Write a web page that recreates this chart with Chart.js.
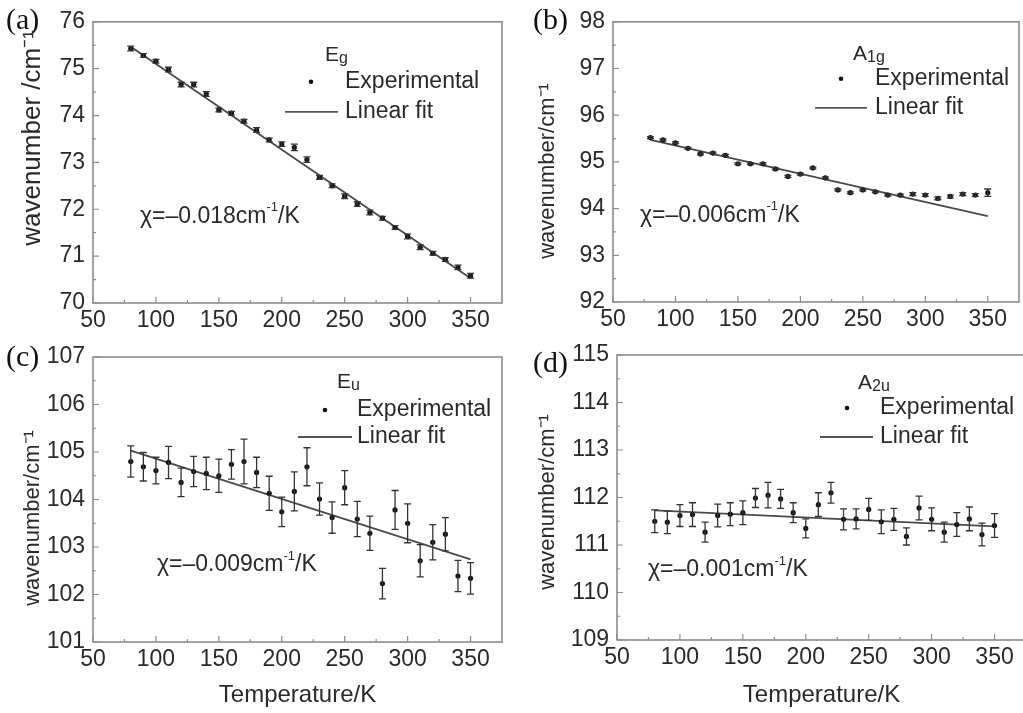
<!DOCTYPE html>
<html>
<head>
<meta charset="utf-8">
<script src="https://cdn.jsdelivr.net/npm/chart.js@4.4.1/dist/chart.umd.min.js"></script>
<style>
  body { margin: 0; background: #fff; width: 1023px; height: 713px; overflow: hidden; position: relative; }
  canvas { position: absolute; }
</style>
</head>
<body>
<canvas id="pa" width="512" height="330" style="left:0;top:0"></canvas>
<canvas id="pb" width="511" height="330" style="left:512px;top:0"></canvas>
<canvas id="pc" width="512" height="383" style="left:0;top:330px"></canvas>
<canvas id="pd" width="520" height="383" style="left:512px;top:330px"></canvas>
<script>
// temperatures (K)
const temps = [80, 90, 100, 110, 120, 130, 140, 150, 160, 170, 180, 190, 200, 210,
               220, 230, 240, 250, 260, 270, 280, 290, 300, 310, 320, 330, 340, 350];
const fitTemps = [80, 350];

// (a) Eg
const egWave = [75.43, 75.28, 75.16, 74.98, 74.66, 74.66, 74.46, 74.12, 74.05, 73.88, 73.69, 73.48, 73.39, 73.32,
                73.06, 72.68, 72.50, 72.28, 72.11, 71.93, 71.81, 71.61, 71.42, 71.19, 71.06, 70.93, 70.76, 70.58];
const egErr  = [0.05, 0.04, 0.04, 0.05, 0.05, 0.05, 0.05, 0.04, 0.04, 0.04, 0.05, 0.04, 0.05, 0.07,
                0.06, 0.04, 0.04, 0.05, 0.05, 0.05, 0.04, 0.04, 0.05, 0.05, 0.04, 0.04, 0.05, 0.05];
const egFit  = [75.47, 70.53];

// (b) A1g
const a1gWave = [95.52, 95.47, 95.41, 95.29, 95.17, 95.19, 95.14, 94.96, 94.96, 94.96, 94.85, 94.69, 94.74, 94.87,
                 94.66, 94.40, 94.34, 94.40, 94.36, 94.29, 94.29, 94.31, 94.29, 94.22, 94.26, 94.31, 94.29, 94.34];
const a1gErr  = [0.02, 0.02, 0.02, 0.02, 0.02, 0.02, 0.02, 0.02, 0.02, 0.02, 0.02, 0.02, 0.02, 0.02,
                 0.02, 0.02, 0.02, 0.02, 0.02, 0.02, 0.02, 0.03, 0.03, 0.03, 0.03, 0.03, 0.03, 0.08];
const a1gFit  = [95.47, 93.84];

// (c) Eu
const euWave = [104.80, 104.69, 104.61, 104.78, 104.36, 104.59, 104.55, 104.50, 104.74, 104.80, 104.57, 104.13, 103.74, 104.17,
                104.69, 104.01, 103.62, 104.25, 103.59, 103.29, 102.23, 103.78, 103.50, 102.71, 103.10, 103.27, 102.39, 102.34];
const euErr  = [0.33, 0.30, 0.28, 0.34, 0.30, 0.32, 0.34, 0.35, 0.31, 0.47, 0.32, 0.36, 0.31, 0.41,
                0.40, 0.34, 0.33, 0.36, 0.37, 0.36, 0.32, 0.41, 0.41, 0.34, 0.37, 0.35, 0.33, 0.33];
const euFit  = [105.03, 102.74];

// (d) A2u
const a2uWave = [111.50, 111.48, 111.62, 111.64, 111.27, 111.62, 111.65, 111.68, 111.99, 112.05, 111.97, 111.68, 111.35, 111.85,
                 112.10, 111.54, 111.55, 111.75, 111.49, 111.54, 111.18, 111.78, 111.54, 111.27, 111.43, 111.55, 111.22, 111.41];
const a2uErr  = [0.24, 0.24, 0.23, 0.25, 0.21, 0.24, 0.24, 0.25, 0.20, 0.27, 0.20, 0.21, 0.20, 0.25,
                 0.22, 0.22, 0.21, 0.23, 0.25, 0.23, 0.18, 0.25, 0.24, 0.21, 0.25, 0.25, 0.24, 0.25];
const a2uFit  = [111.73, 111.39];

const SANS = '"Liberation Sans", Arial, sans-serif';
const SERIF = '"Liberation Serif", "Times New Roman", serif';
const TEXT = '#2a2a2a';
const FRAME = '#8c8c8c';

// frame box + inward ticks (major and minor)
const framePlugin = {
  id: 'frame',
  afterDraw(chart) {
    const ctx = chart.ctx, a = chart.chartArea;
    const xs = chart.scales.x, ys = chart.scales.y;
    ctx.save();
    ctx.strokeStyle = FRAME;
    ctx.lineWidth = 1.6;
    ctx.strokeRect(a.left, a.top, a.right - a.left, a.bottom - a.top);
    ctx.lineWidth = 1.2;
    ctx.beginPath();
    const xt = xs.ticks.map(t => t.value);
    xt.forEach((v, i) => {
      const px = xs.getPixelForValue(v);
      ctx.moveTo(px, a.bottom); ctx.lineTo(px, a.bottom - 6);
      if (i < xt.length - 1) {
        const mx = xs.getPixelForValue((v + xt[i + 1]) / 2);
        ctx.moveTo(mx, a.bottom); ctx.lineTo(mx, a.bottom - 3);
      }
    });
    const yt = ys.ticks.map(t => t.value);
    yt.forEach((v, i) => {
      const py = ys.getPixelForValue(v);
      ctx.moveTo(a.left, py); ctx.lineTo(a.left + 6, py);
      if (i < yt.length - 1) {
        const my = ys.getPixelForValue((v + yt[i + 1]) / 2);
        ctx.moveTo(a.left, my); ctx.lineTo(a.left + 3, my);
      }
    });
    ctx.stroke();
    ctx.restore();
  }
};

// vertical error bars for the experimental points
const errPlugin = {
  id: 'errbars',
  afterDatasetsDraw(chart, args, opts) {
    const ctx = chart.ctx, xs = chart.scales.x, ys = chart.scales.y;
    const pts = chart.data.datasets[0].data;
    ctx.save();
    ctx.strokeStyle = '#333';
    ctx.lineWidth = 1.3;
    ctx.beginPath();
    pts.forEach((p, i) => {
      const e = opts.values[i];
      const px = xs.getPixelForValue(p.x);
      const y1 = ys.getPixelForValue(p.y + e), y2 = ys.getPixelForValue(p.y - e);
      ctx.moveTo(px, y1); ctx.lineTo(px, y2);
      ctx.moveTo(px - 3.5, y1); ctx.lineTo(px + 3.5, y1);
      ctx.moveTo(px - 3.5, y2); ctx.lineTo(px + 3.5, y2);
    });
    ctx.stroke();
    ctx.restore();
  }
};

// panel letter, y title, legend and slope annotation
const textPlugin = {
  id: 'panelText',
  afterDraw(chart, args, o) {
    const ctx = chart.ctx, a = chart.chartArea;
    ctx.save();
    ctx.fillStyle = '#111';
    ctx.font = '30px ' + SERIF;
    ctx.textBaseline = 'middle';
    ctx.fillText(o.letter, o.letterPos[0], o.letterPos[1]);

    // rotated y-axis title
    ctx.fillStyle = TEXT;
    ctx.save();
    ctx.translate(o.yTitlePos[0], o.yTitlePos[1]);
    ctx.rotate(-Math.PI / 2);
    ctx.textAlign = 'center';
    ctx.font = o.yTitleSize + 'px ' + SANS;
    ctx.fillText(o.yTitle, 0, 0);
    ctx.restore();

    // mode label, e.g. E + g subscript
    const L = o.leg;
    let x = a.left + L.mode[0], y = a.top + L.mode[1];
    ctx.font = '21px ' + SANS;
    ctx.fillText(o.modeMain, x, y);
    x += ctx.measureText(o.modeMain).width;
    ctx.font = '16px ' + SANS;
    ctx.fillText(o.modeSub, x, y + 4);

    ctx.font = '23px ' + SANS;
    ctx.fillText('Experimental', a.left + L.text, a.top + L.row1);
    ctx.fillText('Linear fit', a.left + L.text, a.top + L.row2);
    ctx.beginPath();
    ctx.arc(a.left + L.dot, a.top + L.row1, 2.3, 0, Math.PI * 2);
    ctx.fillStyle = '#111';
    ctx.fill();
    ctx.strokeStyle = '#555';
    ctx.lineWidth = 1.8;
    ctx.beginPath();
    ctx.moveTo(a.left + L.line[0], a.top + L.row2);
    ctx.lineTo(a.left + L.line[1], a.top + L.row2);
    ctx.stroke();

    // slope note
    ctx.fillStyle = TEXT;
    x = a.left + o.note[0]; y = a.top + o.note[1];
    ctx.font = '23px ' + SANS;
    const s1 = 'χ=–' + o.slope + 'cm';
    ctx.fillText(s1, x, y);
    x += ctx.measureText(s1).width;
    ctx.font = '13px ' + SANS;
    ctx.fillText('-1', x, y - 9);
    x += ctx.measureText('-1').width;
    ctx.font = '23px ' + SANS;
    ctx.fillText('/K', x, y);
    ctx.restore();
  }
};

function makePanel(p) {
  const tickFont = { family: SANS, size: 23 };
  return new Chart(document.getElementById(p.id), {
    type: 'scatter',
    data: {
      datasets: [
        {
          label: 'Experimental',
          data: temps.map((t, i) => ({ x: t, y: p.wave[i] })),
          pointRadius: 2.6, pointBackgroundColor: '#111', pointBorderWidth: 0, showLine: false
        },
        {
          type: 'line', label: 'Linear fit',
          data: fitTemps.map((t, i) => ({ x: t, y: p.fit[i] })),
          borderColor: '#4a4a4a', borderWidth: 1.8, pointRadius: 0, fill: false, tension: 0
        }
      ]
    },
    options: {
      responsive: false, animation: false, devicePixelRatio: 1,
      layout: { padding: { top: p.padTop, right: p.padRight, left: 0, bottom: 0 } },
      plugins: {
        legend: { display: false }, tooltip: { enabled: false },
        errbars: { values: p.err },
        panelText: p.text
      },
      scales: {
        x: {
          type: 'linear', min: 50, max: 375,
          ticks: { stepSize: 50, includeBounds: false, padding: 4, color: TEXT, font: tickFont, maxRotation: 0 },
          grid: { display: false, drawTicks: false }, border: { display: false },
          title: { display: p.xTitle, text: 'Temperature/K', color: TEXT,
                   font: { family: SANS, size: 24 }, padding: { top: 0, bottom: 3 } },
          afterFit: s => { s.height = p.xH; }
        },
        y: {
          type: 'linear', min: p.yMin, max: p.yMax,
          ticks: { stepSize: 1, padding: 8, color: TEXT, font: tickFont },
          grid: { display: false, drawTicks: false }, border: { display: false },
          afterFit: s => { s.width = p.yW; }
        }
      }
    },
    plugins: [errPlugin, framePlugin, textPlugin]
  });
}

makePanel({
  id: 'pa', wave: egWave, err: egErr, fit: egFit, yMin: 70, yMax: 76,
  padTop: 17, padRight: 10, yW: 93, xH: 27, xTitle: false,
  text: { letter: '(a)', letterPos: [6, 21], modeMain: 'E', modeSub: 'g', slope: '0.018',
          yTitle: 'wavenumber /cm⁻¹', yTitleSize: 26, yTitlePos: [33, 138],
          leg: { mode: [232, 33], dot: 218, text: 252, row1: 60, row2: 90, line: [192, 245] },
          note: [47, 195] }
});
makePanel({
  id: 'pb', wave: a1gWave, err: a1gErr, fit: a1gFit, yMin: 92, yMax: 98,
  padTop: 17, padRight: 3, yW: 101, xH: 28, xTitle: false,
  text: { letter: '(b)', letterPos: [21, 21], modeMain: 'A', modeSub: '1g', slope: '0.006',
          yTitle: 'wavenumber/cm⁻¹', yTitleSize: 22, yTitlePos: [36, 171],
          leg: { mode: [240, 32], dot: 228, text: 262, row1: 57, row2: 86, line: [202, 254] },
          note: [27, 194] }
});
makePanel({
  id: 'pc', wave: euWave, err: euErr, fit: euFit, yMin: 101, yMax: 107,
  padTop: 27, padRight: 10, yW: 93, xH: 71, xTitle: true,
  text: { letter: '(c)', letterPos: [6, 28], modeMain: 'E', modeSub: 'u', slope: '0.009',
          yTitle: 'wavenumber/cm⁻¹', yTitleSize: 22, yTitlePos: [33, 188],
          leg: { mode: [244, 25], dot: 232, text: 264, row1: 53, row2: 80, line: [205, 259] },
          note: [64, 208] }
});
makePanel({
  id: 'pd', wave: a2uWave, err: a2uErr, fit: a2uFit, yMin: 109, yMax: 115,
  padTop: 25, padRight: 6, yW: 105, xH: 73, xTitle: true,
  text: { letter: '(d)', letterPos: [21, 34], modeMain: 'A', modeSub: '2u', slope: '0.001',
          yTitle: 'wavenumber/cm⁻¹', yTitleSize: 22, yTitlePos: [36, 172],
          leg: { mode: [241, 28], dot: 230, text: 263, row1: 53, row2: 82, line: [203, 256] },
          note: [31, 215] }
});
</script>
</body>
</html>
